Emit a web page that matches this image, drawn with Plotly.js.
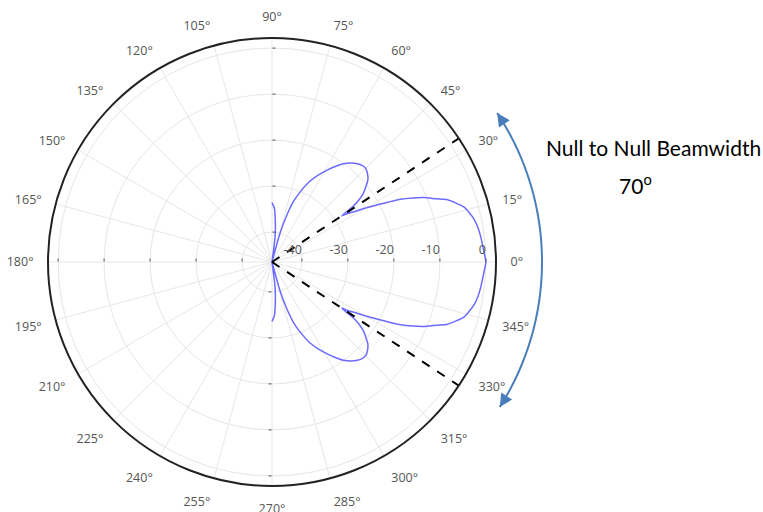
<!DOCTYPE html>
<html>
<head>
<meta charset="utf-8">
<script src="https://cdn.plot.ly/plotly-3.0.1.min.js"></script>
<style>html,body{margin:0;padding:0;background:#fff;}#chart{width:763px;height:512px;}</style>
</head>
<body>
<div id="chart"></div>
<script>
// ---- data ----
const thetaDeg = [-90, -87.5, -85.5, -83, -80, -78, -74.5, -72.5, -70.5, -68, -65, -62, -59, -56.5, -54, -51.5, -49, -47, -45, -42.5, -40.5, -37, -35.5, -34.5, -33.5, -32.5, -31, -30, -28.5, -26, -24.5, -23, -21, -19.5, -16, -14, -12, -9.5, -7, -3, 0,
                  3, 7, 9.5, 12, 14, 16, 19.5, 21, 23, 24.5, 26, 28.5, 30, 31, 32.5, 33.5, 34.5, 35.5, 37, 40.5, 42.5, 45, 47, 49, 51.5, 54, 56.5, 59, 62, 65, 68, 70.5, 72.5, 74.5, 78, 80, 83, 85.5, 87.5, 90];
const gainDb = [-33.6, -34.8, -37.4, -41.0, -46.5, -46.5, -40.0, -36.0, -32.6, -30.0, -27.2, -25.1, -23.2, -21.6, -20.1, -19.0, -18.2, -17.8, -17.7, -18.3, -19.1, -21.6, -23.3, -25.0, -28.3, -26.8, -24.9, -23.0, -20.5, -15.4, -12.9, -10.6, -8.2, -6.0, -3.1, -2.3, -1.6, -1.1, -0.8, -0.4, 0,
                -0.4, -0.8, -1.1, -1.6, -2.3, -3.1, -6.0, -8.2, -10.6, -12.9, -15.4, -20.5, -23.0, -24.9, -26.8, -28.3, -25.0, -23.3, -21.6, -19.1, -18.3, -17.7, -17.8, -18.2, -19.0, -20.1, -21.6, -23.2, -25.1, -27.2, -30.0, -32.6, -36.0, -40.0, -46.5, -46.5, -41.0, -37.4, -34.8, -33.6];
const nullAngles = [33.5, -33.5];
const radialTicks = [-40, -30, -20, -10, 0];
const radialTickText = ['-40', '-30', '-20', '-10', '0'];
const radialRange = [-46.5, 2.2];
const labelMain = "Null to Null Beamwidth";
const labelWidth = "70<sup>o</sup>";

// ---- geometry of the polar area (pixels) ----
const W = 763, H = 512;
const CX = 272, CY = 262, R = 224;
const px = x => x / W;
const py = y => 1 - y / H;
const dom = {x: [px(CX - R), px(CX + R)], y: [py(CY + R), py(CY - R)]};

const traces = [
  {type: 'scatterpolar', subplot: 'polar', mode: 'lines', r: gainDb, theta: thetaDeg,
   line: {color: '#6b6bff', width: 1.5, shape: 'spline', smoothing: 0.6}, hoverinfo: 'skip'}
];
nullAngles.forEach(a => traces.push({
  type: 'scatterpolar', subplot: 'polar', mode: 'lines',
  r: [radialRange[0], radialRange[1]], theta: [a, a],
  line: {color: '#000', width: 2, dash: 'dash'}, hoverinfo: 'skip'
}));
['polar2', 'polar3', 'polar4'].forEach(s => traces.push({type: 'scatterpolar', subplot: s, r: [], theta: [], mode: 'lines'}));

const overlay = ang => ({
  domain: dom, bgcolor: 'rgba(0,0,0,0)',
  angularaxis: {visible: false, rotation: 0, direction: 'counterclockwise'},
  radialaxis: {range: radialRange, angle: ang, showgrid: false, showline: false, showticklabels: false,
               tickvals: radialTicks, ticks: 'outside', ticklen: 3, tickcolor: '#555'}
});

// tick labels right-aligned to their tick: pad with an invisible copy of the label
const tickTextAligned = radialTickText.map(t => t + '<span style="color:rgba(0,0,0,0)">' + t + '</span>');

// blue arc with arrows
const arcR = 270, a0 = -32.5, a1 = 33.5;
let path = '';
for (let i = 0; i <= 60; i++) {
  const a = (a0 + (a1 - a0) * i / 60) * Math.PI / 180;
  const x = px(CX + arcR * Math.cos(a)), y = py(CY - arcR * Math.sin(a));
  path += (i === 0 ? 'M' : 'L') + x.toFixed(5) + ',' + y.toFixed(5) + ' ';
}
function arrowAt(deg, sign) {
  const a = deg * Math.PI / 180, L = 10;
  const tx = -Math.sin(a) * sign, ty = -Math.cos(a) * sign;
  return {xref: 'paper', yref: 'paper', x: px(CX + arcR * Math.cos(a)), y: py(CY - arcR * Math.sin(a)),
          ax: -tx * L, ay: -ty * L, showarrow: true, text: '', arrowhead: 2, arrowsize: 1.3,
          arrowwidth: 2, arrowcolor: '#4a7ebb', standoff: 0};
}

const layout = {
  width: W, height: H, margin: {l: 0, r: 0, t: 0, b: 0},
  paper_bgcolor: '#fff', showlegend: false,
  font: {family: '"Open Sans", verdana, arial, sans-serif', color: '#555', size: 12},
  polar: {
    domain: dom, bgcolor: '#fff',
    angularaxis: {rotation: 0, direction: 'counterclockwise', tickmode: 'linear', tick0: 0, dtick: 15,
                  showline: true, linecolor: '#222', linewidth: 2, gridcolor: '#e6e6e6',
                  ticks: 'outside', ticklen: 11, tickcolor: 'rgba(0,0,0,0)',
                  tickfont: {size: 12.5, color: '#555'}},
    radialaxis: {range: radialRange, angle: 0, side: 'counterclockwise', tickvals: radialTicks,
                 ticktext: tickTextAligned,
                 showline: false, gridcolor: '#e6e6e6', ticks: 'outside', ticklen: 3, tickcolor: '#555',
                 tickfont: {size: 12.5, color: '#555'}}
  },
  polar2: overlay(90), polar3: overlay(180), polar4: overlay(270),
  shapes: [{type: 'path', xref: 'paper', yref: 'paper', path: path, line: {color: '#4a7ebb', width: 2}}],
  annotations: [
    arrowAt(a1, 1), arrowAt(a0, -1),
    {xref: 'paper', yref: 'paper', x: px(653), y: py(147), xanchor: 'center', yanchor: 'middle',
     text: labelMain, showarrow: false,
     font: {family: 'Lato, "Liberation Sans", sans-serif', size: 21, color: '#000'}},
    {xref: 'paper', yref: 'paper', x: px(635), y: py(184), xanchor: 'center', yanchor: 'middle',
     text: labelWidth, showarrow: false,
     font: {family: 'Lato, "Liberation Sans", sans-serif', size: 21, color: '#000'}}
  ]
};

Plotly.newPlot('chart', traces, layout, {staticPlot: true, displayModeBar: false});
</script>
</body>
</html>
